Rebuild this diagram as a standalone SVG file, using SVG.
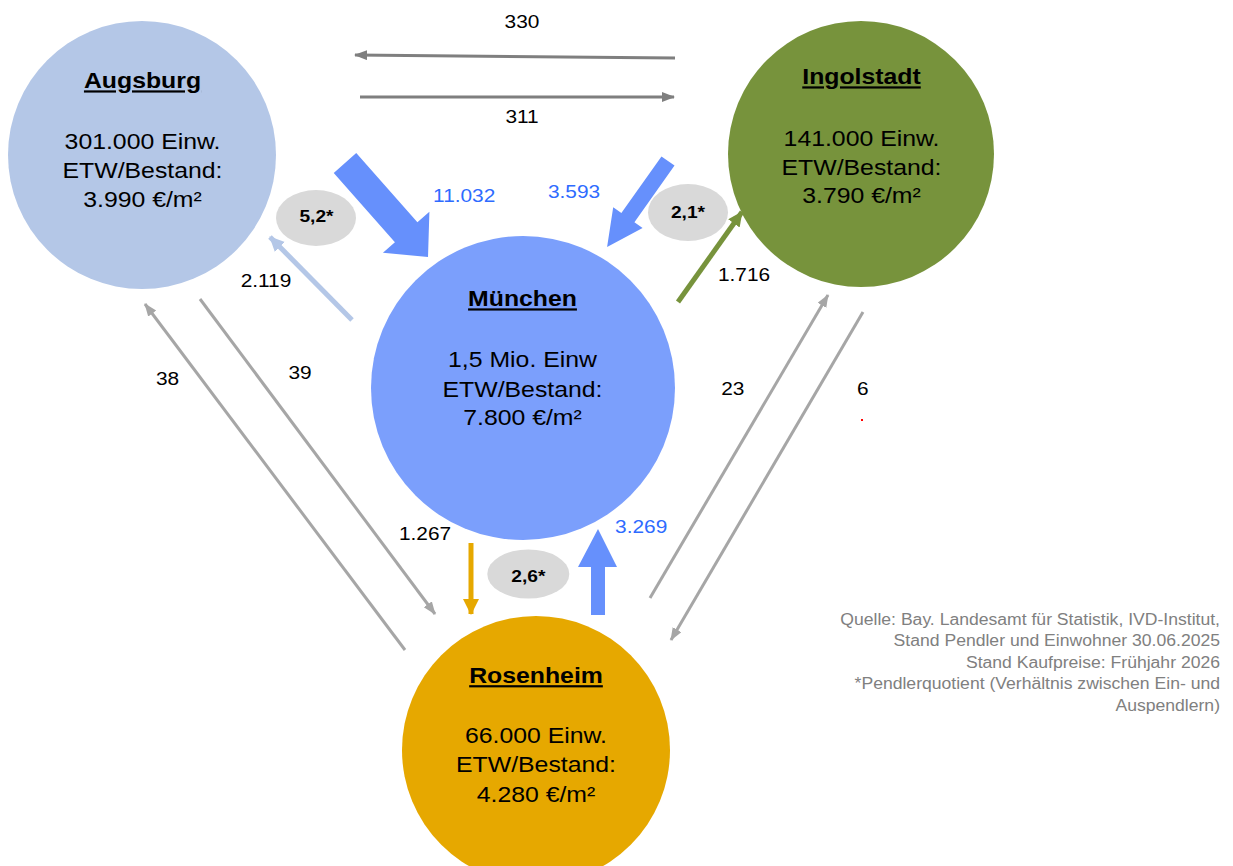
<svg xmlns="http://www.w3.org/2000/svg" width="1233" height="866" viewBox="0 0 1233 866">
<style>
text{font-family:"Liberation Sans",Arial,sans-serif;}
.title{font-size:22px;font-weight:bold;text-decoration:underline;fill:#000;text-anchor:middle;}
.info{font-size:22px;fill:#000;text-anchor:middle;}
.num{font-size:18.5px;fill:#000;text-anchor:middle;}
.bnum{font-size:18.5px;fill:#2e6bff;text-anchor:middle;}
.ratio{font-size:17px;font-weight:bold;fill:#000;text-anchor:middle;}
.src{font-size:15.6px;fill:#808080;text-anchor:end;}
.gray1{stroke:#7f7f7f;stroke-width:3;fill:none;marker-end:url(#mDark);}
.gray2{stroke:#a6a6a6;stroke-width:3;fill:none;marker-end:url(#mGray);}
.oval{fill:#d9d9d9;}
</style>
<defs>
<marker id="mDark" markerUnits="userSpaceOnUse" markerWidth="14" markerHeight="12" refX="12" refY="5" orient="auto"><path d="M0,0 L13,5 L0,10 z" fill="#7f7f7f"/></marker>
<marker id="mGray" markerUnits="userSpaceOnUse" markerWidth="14" markerHeight="12" refX="12" refY="5" orient="auto"><path d="M0,0 L13,5 L0,10 z" fill="#a6a6a6"/></marker>
<marker id="mLight" markerUnits="userSpaceOnUse" markerWidth="16" markerHeight="16" refX="14" refY="7" orient="auto"><path d="M0,0 L15,7 L0,14 z" fill="#b4c7e7"/></marker>
<marker id="mGreen" markerUnits="userSpaceOnUse" markerWidth="16" markerHeight="16" refX="14" refY="7" orient="auto"><path d="M0,0 L15,7 L0,14 z" fill="#77933c"/></marker>
<marker id="mOrange" markerUnits="userSpaceOnUse" markerWidth="18" markerHeight="18" refX="15" refY="8" orient="auto"><path d="M0,0 L16,8 L0,16 z" fill="#e6a800"/></marker>
</defs>
<rect width="1233" height="866" fill="#fff"/>

<g id="augsburg">
<circle cx="142" cy="155" r="134" fill="#b4c7e7"/>
<g transform="translate(142.5,0) scale(1.128,1)">
<text class="title" x="0" y="88.5">Augsburg</text>
<text class="info" x="0" y="149.3">301.000 Einw.</text>
<text class="info" x="0" y="178.3">ETW/Bestand:</text>
<text class="info" x="0" y="206.7">3.990 €/m²</text>
</g>
</g>

<g id="ingolstadt">
<circle cx="861" cy="154" r="133" fill="#77933c"/>
<g transform="translate(861.5,0) scale(1.128,1)">
<text class="title" x="0" y="84.5">Ingolstadt</text>
<text class="info" x="0" y="145.7">141.000 Einw.</text>
<text class="info" x="0" y="175">ETW/Bestand:</text>
<text class="info" x="0" y="203.3">3.790 €/m²</text>
</g>
</g>

<g id="muenchen">
<circle cx="523" cy="388" r="152" fill="#7b9ffc"/>
<g transform="translate(522.5,0) scale(1.128,1)">
<text class="title" x="0" y="306.5">München</text>
<text class="info" x="0" y="367.3">1,5 Mio. Einw</text>
<text class="info" x="0" y="396.7">ETW/Bestand:</text>
<text class="info" x="0" y="425.5">7.800 €/m²</text>
</g>
</g>

<g id="rosenheim">
<circle cx="536" cy="750" r="134" fill="#e6a800"/>
<g transform="translate(536,0) scale(1.128,1)">
<text class="title" x="0" y="683.3">Rosenheim</text>
<text class="info" x="0" y="743.3">66.000 Einw.</text>
<text class="info" x="0" y="772">ETW/Bestand:</text>
<text class="info" x="0" y="801.7">4.280 €/m²</text>
</g>
</g>

<g id="ratios">
<ellipse class="oval" cx="316" cy="218" rx="40" ry="28"/>
<text class="ratio" transform="translate(316.5,221.7) scale(1.128,1)">5,2*</text>
<ellipse class="oval" cx="688" cy="212.5" rx="40" ry="28.5"/>
<text class="ratio" transform="translate(688,218.3) scale(1.128,1)">2,1*</text>
<ellipse class="oval" cx="528.3" cy="574" rx="41" ry="24.5"/>
<text class="ratio" transform="translate(528.3,581.5) scale(1.128,1)">2,6*</text>
</g>

<g id="connectors">
<line class="gray1" x1="675" y1="58" x2="355" y2="55"/>
<line class="gray1" x1="360" y1="97" x2="674" y2="97"/>
<line class="gray2" x1="405" y1="650" x2="145" y2="304"/>
<line class="gray2" x1="200" y1="299" x2="435" y2="614"/>
<line class="gray2" x1="650" y1="598" x2="828" y2="295"/>
<line class="gray2" x1="863" y1="312" x2="671" y2="640"/>
<line x1="352" y1="320" x2="270" y2="237" stroke="#b4c7e7" stroke-width="5" marker-end="url(#mLight)"/>
<line x1="678" y1="302" x2="742" y2="212" stroke="#77933c" stroke-width="5" marker-end="url(#mGreen)"/>
<line x1="471" y1="543" x2="471" y2="614" stroke="#e6a800" stroke-width="5" marker-end="url(#mOrange)"/>
<polygon transform="translate(345,163) rotate(48.55)" points="0,-15 92.4,-15 92.4,-31 125.4,0 92.4,31 92.4,15 0,15" fill="#6690fc"/>
<polygon transform="translate(668,161) rotate(125.3)" points="0,-8 69.4,-8 69.4,-18 105.4,0 69.4,18 69.4,8 0,8" fill="#6690fc"/>
<polygon points="591,615 591,567 578,567 598,529 617,567 605,567 605,615" fill="#6690fc"/>
</g>

<g id="labels">
<text class="num" transform="translate(522,28.3) scale(1.128,1)">330</text>
<text class="num" transform="translate(522,123.3) scale(1.128,1)">311</text>
<text class="bnum" transform="translate(464.2,201.7) scale(1.128,1)">11.032</text>
<text class="bnum" transform="translate(574,198.3) scale(1.128,1)">3.593</text>
<text class="num" transform="translate(266,287) scale(1.128,1)">2.119</text>
<text class="num" transform="translate(744,280.7) scale(1.128,1)">1.716</text>
<text class="num" transform="translate(167.5,385) scale(1.128,1)">38</text>
<text class="num" transform="translate(300,379) scale(1.128,1)">39</text>
<text class="num" transform="translate(732.8,395) scale(1.128,1)">23</text>
<text class="num" transform="translate(862.8,395) scale(1.128,1)">6</text>
<text class="num" transform="translate(425,539.5) scale(1.128,1)">1.267</text>
<text class="bnum" transform="translate(641.2,532.7) scale(1.128,1)">3.269</text>
<rect x="861" y="419" width="2" height="2" fill="#ff0000"/>
</g>

<g id="source" transform="translate(1220,0) scale(1.128,1)">
<text class="src" x="0" y="625">Quelle: Bay. Landesamt für Statistik, IVD-Institut,</text>
<text class="src" x="0" y="646.5">Stand Pendler und Einwohner 30.06.2025</text>
<text class="src" x="0" y="668">Stand Kaufpreise: Frühjahr 2026</text>
<text class="src" x="0" y="689.5">*Pendlerquotient (Verhältnis zwischen Ein- und</text>
<text class="src" x="0" y="711">Auspendlern)</text>
</g>
</svg>
